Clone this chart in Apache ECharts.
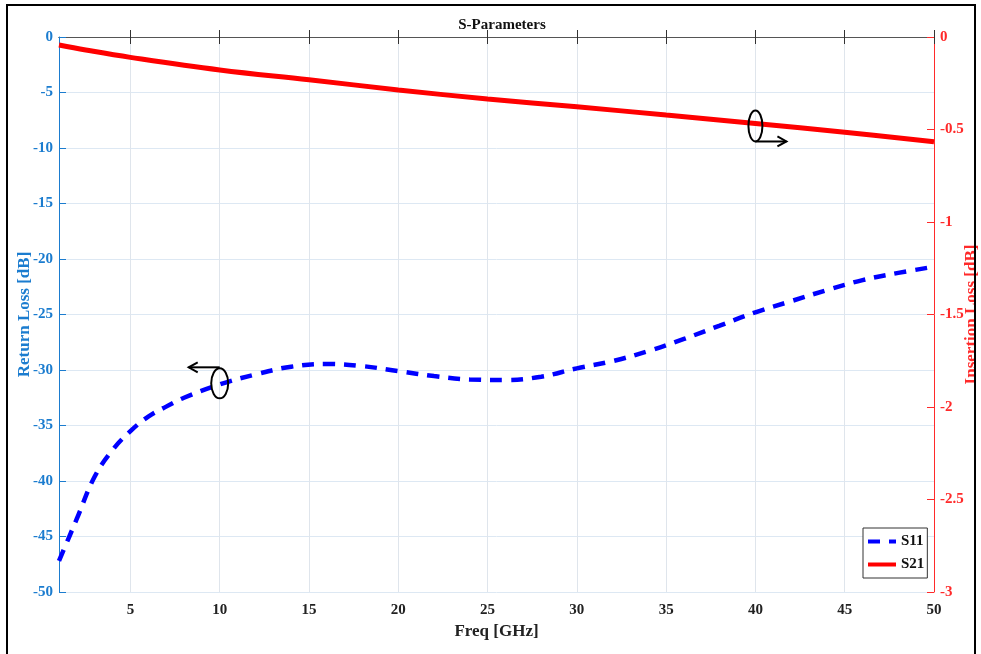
<!DOCTYPE html>
<html>
<head>
<meta charset="utf-8">
<script src="https://cdn.jsdelivr.net/npm/echarts@6/dist/echarts.min.js"></script>
<style>
  html, body { margin: 0; padding: 0; background: #fff; }
  #main { width: 981px; height: 654px; }
</style>
</head>
<body>
<div id="main"></div>
<script>
// S11 (return loss, left axis)
const s11Freq = [1, 1.5, 2, 3, 4, 5, 6, 7, 8, 10, 12, 14, 16, 18, 20, 22, 24, 26, 28, 30, 32, 34, 36, 38, 40, 42, 44, 46, 48, 50]
const s11 = [-47.2, -45.3, -43.4, -39.6, -37.2, -35.5, -34.2, -33.3, -32.5, -31.3, -30.4, -29.7, -29.45, -29.65, -30.1, -30.55, -30.85, -30.9, -30.6, -29.85, -29.2, -28.3, -27.2, -26.0, -24.8, -23.8, -22.8, -21.9, -21.25, -20.7]
// S21 (insertion loss, right axis)
const s21Freq = [1, 2.5, 5, 10, 15, 20, 25, 30, 35, 40, 45, 50]
const s21 = [-0.043, -0.07, -0.110, -0.178, -0.231, -0.286, -0.335, -0.377, -0.422, -0.467, -0.515, -0.566]
const xTicks = [5, 10, 15, 20, 25, 30, 35, 40, 45, 50]

const blue = '#1b7ccf'
const red = '#ff2a2a'
const font = 'Liberation Serif'

const chart = echarts.init(document.getElementById('main'))

const option = {
  animation: false,
  title: {
    text: 'S-Parameters',
    left: 497,
    top: 13,
    textAlign: 'center',
    textStyle: { fontFamily: font, fontWeight: 'bold', fontSize: 15, color: '#111' }
  },
  grid: { left: 59, right: 47, top: 37, bottom: 62, containLabel: false, outerBoundsMode: 'none' },
  legend: {
    orient: 'vertical',
    left: 863,
    top: 528,
    padding: [6, 3, 6, 3],
    itemWidth: 28,
    itemHeight: 14,
    itemGap: 8,
    borderColor: '#333',
    borderWidth: 1,
    backgroundColor: '#fff',
    itemStyle: { opacity: 0 },
    lineStyle: { width: 4 },
    textStyle: { fontFamily: font, fontWeight: 'bold', fontSize: 15, color: '#111' },
    data: ['S11', 'S21']
  },
  xAxis: [
    {
      type: 'value',
      position: 'bottom',
      min: 1,
      max: 50,
      name: 'Freq [GHz]',
      nameLocation: 'middle',
      nameGap: 31,
      nameMoveOverlap: false,
      nameTextStyle: { fontFamily: font, fontWeight: 'bold', fontSize: 17, color: '#222' },
      axisLine: { show: true, lineStyle: { color: '#333', width: 1 } },
      axisTick: { show: true, inside: true, length: 7, customValues: xTicks, lineStyle: { color: '#333' } },
      axisLabel: { customValues: xTicks, fontFamily: font, fontWeight: 'bold', fontSize: 15, color: '#222', margin: 11 },
      splitLine: { show: true, lineStyle: { color: '#dfe5ec', width: 1 } }
    },
    {
      type: 'value',
      position: 'top',
      min: 1,
      max: 50,
      axisLine: { show: true, lineStyle: { color: '#555', width: 1 } },
      axisTick: { show: true, inside: true, length: 7, customValues: xTicks, lineStyle: { color: '#333' } },
      axisLabel: { show: false },
      splitLine: { show: false }
    }
  ],
  yAxis: [
    {
      type: 'value',
      position: 'left',
      min: -50,
      max: 0,
      interval: 5,
      name: 'Return Loss [dB]',
      nameLocation: 'middle',
      nameRotate: 90,
      nameGap: 26,
      nameMoveOverlap: false,
      nameTextStyle: { fontFamily: font, fontWeight: 'bold', fontSize: 17, color: blue },
      axisLine: { show: true, lineStyle: { color: blue, width: 1 } },
      axisTick: { show: true, inside: true, length: 7, lineStyle: { color: blue } },
      axisLabel: { fontFamily: font, fontWeight: 'bold', fontSize: 15, color: blue, margin: 6 },
      splitLine: { show: true, lineStyle: { color: '#dde8f3', width: 1 } }
    },
    {
      type: 'value',
      position: 'right',
      min: -3,
      max: 0,
      interval: 0.5,
      name: 'Insertion Loss [dB]',
      nameLocation: 'middle',
      nameRotate: 90,
      nameGap: 29,
      nameMoveOverlap: false,
      nameTextStyle: { fontFamily: font, fontWeight: 'bold', fontSize: 17, color: red },
      axisLine: { show: true, lineStyle: { color: red, width: 1 } },
      axisTick: { show: true, inside: true, length: 7, lineStyle: { color: red } },
      axisLabel: { fontFamily: font, fontWeight: 'bold', fontSize: 15, color: red, margin: 6 },
      splitLine: { show: false }
    }
  ],
  series: [
    {
      name: 'S11',
      type: 'line',
      xAxisIndex: 0,
      yAxisIndex: 0,
      data: s11Freq.map((f, i) => [f, s11[i]]),
      smooth: 0.4,
      showSymbol: false,
      symbol: 'none',
      lineStyle: { color: '#0000ff', width: 4.5, type: [12, 9] },
      itemStyle: { color: '#0000ff' }
    },
    {
      name: 'S21',
      type: 'line',
      xAxisIndex: 0,
      yAxisIndex: 1,
      data: s21Freq.map((f, i) => [f, s21[i]]),
      smooth: 0.4,
      showSymbol: false,
      symbol: 'none',
      lineStyle: { color: '#ff0000', width: 5 },
      itemStyle: { color: '#ff0000' }
    }
  ]
}

chart.setOption(option)

// 注释：椭圆 + 箭头，指向各自的坐标轴
function marker (center, rx, ry, fromTop, dir) {
  const [cx, cy] = center
  const ay = fromTop ? cy - ry - 1 : cy + ry
  const ex = cx + dir * 31
  const line = { color: '#000', width: 2 }
  return [
    { type: 'ellipse', z: 100, shape: { cx: cx, cy: cy, rx: rx, ry: ry }, style: { fill: 'none', stroke: line.color, lineWidth: line.width } },
    { type: 'line', z: 100, shape: { x1: cx, y1: ay, x2: ex, y2: ay }, style: { stroke: line.color, lineWidth: line.width } },
    { type: 'polyline', z: 100, shape: { points: [[ex - dir * 9, ay - 5], [ex, ay], [ex - dir * 9, ay + 5]] }, style: { fill: 'none', stroke: line.color, lineWidth: line.width } }
  ]
}

const c21 = chart.convertToPixel({ seriesIndex: 1 }, [40, -0.481])
const c11 = chart.convertToPixel({ seriesIndex: 0 }, [10, -31.2])

chart.setOption({
  graphic: [
    { type: 'rect', z: 100, shape: { x: 7, y: 5, width: 968, height: 680 }, style: { fill: 'none', stroke: '#000', lineWidth: 2 } }
  ].concat(marker(c21, 7, 15.5, false, 1), marker(c11, 8.5, 15, true, -1))
})
</script>
</body>
</html>
